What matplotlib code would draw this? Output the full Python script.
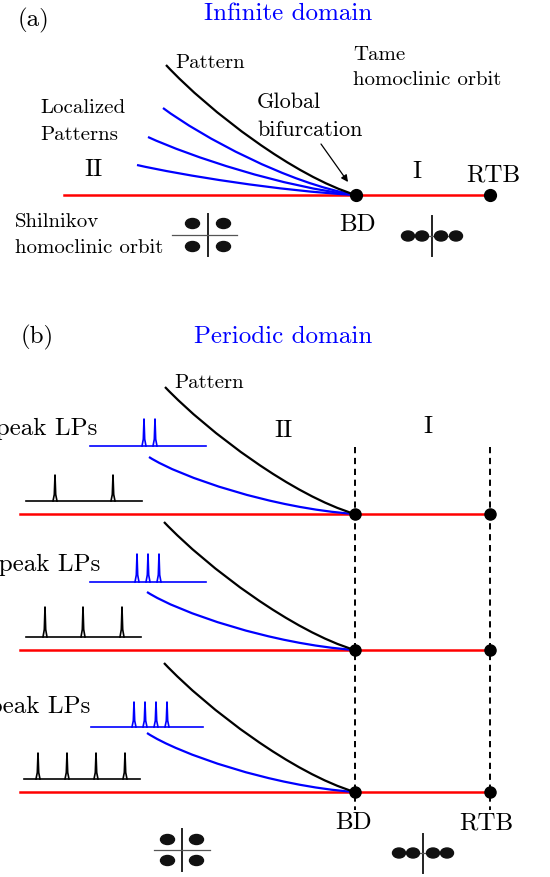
import numpy as np
import matplotlib
matplotlib.use("Agg")
import matplotlib.pyplot as plt
from matplotlib.path import Path
from matplotlib.patches import PathPatch, Ellipse

plt.rcParams['font.family'] = ['cmr10', 'DejaVu Serif']

# ---- schematic data (pixel space of the 550x878 picture) ----
# panel (a): infinite domain
a_line_y = 196
a_bd_x, a_rtb_x = 356, 490
a_black_start = (166, 66)
a_blue_start_x = [163, 148, 137]
a_blue_start_y = [109, 138, 166]

# panel (b): periodic domain, three rows (2, 3, 4 peaks)
b_bd_x, b_rtb_x = 355, 490
b_row_y = [515, 651, 793]
b_black_start_x = [165, 164, 164]
b_black_start_y = [388, 523, 664]
b_blue_start_x = [149, 147, 147]
b_blue_start_y = [458, 593, 734]
b_row_labels = ['2-peak LPs', '3-peak LPs', '4-peak LPs']
b_label_x = [97, 100, 90]
b_label_y = [429, 565, 707]

# localized pulse insets (blue) and periodic pattern insets (black)
lp_base_y = [447, 583, 728]
lp_peaks = [[144, 155], [137, 148, 159], [134, 145, 156, 167]]
lp_height = [27, 28, 25]
lp_span = [(90, 206), (90, 206), (91, 203)]
per_base_y = [502, 638, 780]
per_peaks = [[55, 113], [45, 83, 122], [38, 67, 96, 125]]
per_height = [26, 30, 26]
per_span = [(26, 142), (26, 141), (24, 140)]

RED = '#ff0000'
BLUE = '#0000ff'

fig = plt.figure(figsize=(5.5, 8.78), dpi=100)
ax = fig.add_axes([0, 0, 1, 1])
ax.set_xlim(0, 550)
ax.set_ylim(878, 0)
ax.axis('off')


def branch(start, end, k1, k2, color, lw=1.6):
    dx, dy = end[0] - start[0], end[1] - start[1]
    verts = [start,
             (start[0] + k1[0] * dx, start[1] + k1[1] * dy),
             (start[0] + k2[0] * dx, start[1] + k2[1] * dy),
             end]
    p = Path(verts, [Path.MOVETO, Path.CURVE4, Path.CURVE4, Path.CURVE4])
    ax.add_patch(PathPatch(p, fill=False, edgecolor=color, lw=lw, zorder=3))


def pulses(x0, x1, base, peaks, h, color):
    ax.plot([x0, x1], [base, base], color=color, lw=1.2)
    for xp in peaks:
        ax.plot([xp - 2, xp - 0.7, xp, xp + 0.7, xp + 2],
                [base, base - 0.25 * h, base - h, base - 0.25 * h, base],
                color=color, lw=1.2)


def eig_cross(cx, cy, dxd, dyd, vtop, vbot, hl, hr):
    ax.plot([cx, cx], [vtop, vbot], color='#222222', lw=1.4)
    ax.plot([hl, hr], [cy, cy], color='#555555', lw=0.9)
    for sx in (-1, 1):
        for sy in (-1, 1):
            ax.add_patch(Ellipse((cx + sx * dxd, cy + sy * dyd), 14, 10,
                                 color='#111111', zorder=4))


def eig_real(cx, cy, xs, vtop, vbot):
    ax.plot([cx, cx], [vtop, vbot], color='#222222', lw=1.4)
    ax.plot([xs[0], xs[-1]], [cy, cy], color='#555555', lw=0.9)
    for x in xs:
        ax.add_patch(Ellipse((x, cy), 13, 10, color='#111111', zorder=4))


K_BLACK = ((0.23, 0.36), (0.68, 0.86))
K_BLUE_A = ((0.20, 0.33), (0.65, 0.87))
K_BLUE_B = ((0.15, 0.35), (0.60, 0.90))

# ---------------- panel (a) ----------------
ax.text(33, 20, '(a)', fontsize=18, ha='center', va='center')
ax.text(288, 14, 'Infinite domain', fontsize=18, color=BLUE, ha='center', va='center')

ax.plot([64, a_rtb_x], [a_line_y, a_line_y], color=RED, lw=1.8, zorder=2)
for sx, sy in zip(a_blue_start_x, a_blue_start_y):
    branch((sx, sy), (a_bd_x, a_line_y), *K_BLUE_A, BLUE)
branch(a_black_start, (a_bd_x, a_line_y), *K_BLACK, 'black')
ax.plot([a_bd_x, a_rtb_x], [a_line_y, a_line_y], 'o', color='black', ms=8.5, zorder=5)

ax.text(175, 63, 'Pattern', fontsize=15, ha='left', va='center')
ax.text(353, 55, 'Tame', fontsize=15, ha='left', va='center')
ax.text(353, 80, 'homoclinic orbit', fontsize=15, ha='left', va='center')
ax.text(257, 102, 'Global', fontsize=16, ha='left', va='center')
ax.text(257, 130, 'bifurcation', fontsize=16, ha='left', va='center')
ax.text(40, 108, 'Localized', fontsize=15, ha='left', va='center')
ax.text(40, 135, 'Patterns', fontsize=15, ha='left', va='center')
ax.text(93, 170, 'II', fontsize=18, ha='center', va='center')
ax.text(417, 172, 'I', fontsize=18, ha='center', va='center')
ax.text(493, 175, 'RTB', fontsize=18, ha='center', va='center')
ax.text(358, 225, 'BD', fontsize=18, ha='center', va='center')
ax.text(15, 222, 'Shilnikov', fontsize=15, ha='left', va='center')
ax.text(15, 248, 'homoclinic orbit', fontsize=15, ha='left', va='center')
ax.annotate('', xy=(348, 183), xytext=(321, 145),
            arrowprops=dict(arrowstyle='-|>', color='black', lw=0.9,
                            mutation_scale=10, shrinkA=0, shrinkB=0))

eig_cross(208, 236, 15.5, 11.5, 215, 257, 172, 237)
eig_real(432, 237, [408, 422, 441, 456], 217, 257)

# ---------------- panel (b) ----------------
ax.text(37, 337, '(b)', fontsize=18, ha='center', va='center')
ax.text(283, 337, 'Periodic domain', fontsize=18, color=BLUE, ha='center', va='center')
ax.text(174, 383, 'Pattern', fontsize=15, ha='left', va='center')
ax.text(283, 431, 'II', fontsize=18, ha='center', va='center')
ax.text(428, 427, 'I', fontsize=18, ha='center', va='center')

for xd in (b_bd_x, b_rtb_x):
    ax.plot([xd, xd], [448, 811], color='black', lw=1.4,
            linestyle=(0, (3.2, 2.4)), zorder=1)

for i, ry in enumerate(b_row_y):
    ax.plot([20, b_rtb_x], [ry, ry], color=RED, lw=1.8, zorder=2)
    branch((b_blue_start_x[i], b_blue_start_y[i]), (b_bd_x, ry), *K_BLUE_B, BLUE)
    branch((b_black_start_x[i], b_black_start_y[i]), (b_bd_x, ry), *K_BLACK, 'black')
    ax.plot([b_bd_x, b_rtb_x], [ry, ry], 'o', color='black', ms=8, zorder=5)
    # labels run off the left edge, as in the original figure
    ax.text(b_label_x[i], b_label_y[i], b_row_labels[i], fontsize=18,
            ha='right', va='center')
    pulses(*lp_span[i], lp_base_y[i], lp_peaks[i], lp_height[i], BLUE)
    pulses(*per_span[i], per_base_y[i], per_peaks[i], per_height[i], 'black')

ax.text(354, 823, 'BD', fontsize=18, ha='center', va='center')
ax.text(486, 823, 'RTB', fontsize=18, ha='center', va='center')

eig_cross(182, 851, 14.5, 10.5, 830, 872, 154, 210)
eig_real(423, 854, [399, 413, 433, 447], 835, 874)

fig.savefig('out.png', dpi=100)
